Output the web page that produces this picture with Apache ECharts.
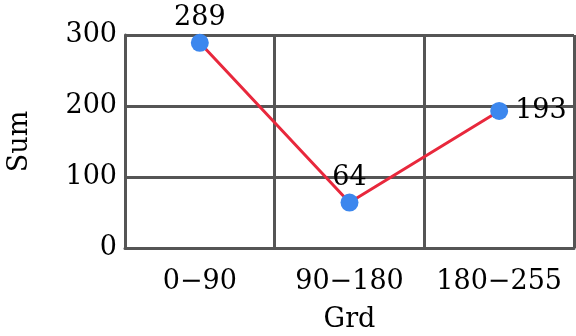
<!DOCTYPE html>
<html><head><meta charset="utf-8">
<script src="https://cdn.jsdelivr.net/npm/echarts@6/dist/echarts.min.js"></script>
<style>html,body{margin:0;padding:0;background:#fff}#c{width:576px;height:336px}</style>
</head><body><div id="c"></div>
<script>
const categories = ["0\u221290", "90\u2212180", "180\u2212255"];
const sumValues = [289, 64, 193];
const yTicks = [0, 100, 200, 300];
const labelPositions = ["top", "top", "right"];

const font = "DejaVu Serif";
const fs = 27;
const gridColor = "#555555";
const chart = echarts.init(document.getElementById('c'), null, {renderer: 'canvas'});
chart.setOption({
  animation: false,
  grid: {left: 125, right: 2, top: 35, bottom: 88, outerBoundsMode: 'none', containLabel: false},
  xAxis: {
    type: 'category', data: categories, boundaryGap: true,
    name: 'Grd', nameLocation: 'middle', nameGap: 58,
    nameTextStyle: {fontFamily: font, fontSize: fs, color: '#000'},
    axisLine: {lineStyle: {color: gridColor, width: 3}},
    axisTick: {show: false, interval: 0},
    axisLabel: {fontFamily: font, fontSize: fs, color: '#000', margin: 20, interval: 0, hideOverlap: false},
    splitLine: {show: true, interval: 0, lineStyle: {color: gridColor, width: 3}}
  },
  yAxis: {
    type: 'value', min: yTicks[0], max: yTicks[yTicks.length-1], interval: 100,
    name: 'Sum', nameLocation: 'middle', nameGap: 92,
    nameTextStyle: {fontFamily: font, fontSize: fs, color: '#000'},
    axisLine: {show: true, lineStyle: {color: gridColor, width: 3}},
    axisTick: {show: false},
    axisLabel: {fontFamily: font, fontSize: fs, color: '#000', margin: 8, padding: [8, 0, 0, 0]},
    splitLine: {show: true, lineStyle: {color: gridColor, width: 3}}
  },
  series: [{
    type: 'line',
    data: sumValues.map((v, i) => ({value: v, label: {position: labelPositions[i], distance: labelPositions[i] === 'right' ? 7 : 2}})),
    symbol: 'circle', symbolSize: 18,
    lineStyle: {color: '#e8283c', width: 3},
    itemStyle: {color: '#3c87ee'},
    label: {show: true, fontFamily: font, fontSize: fs, color: '#000'}
  }]
});
</script></body></html>
